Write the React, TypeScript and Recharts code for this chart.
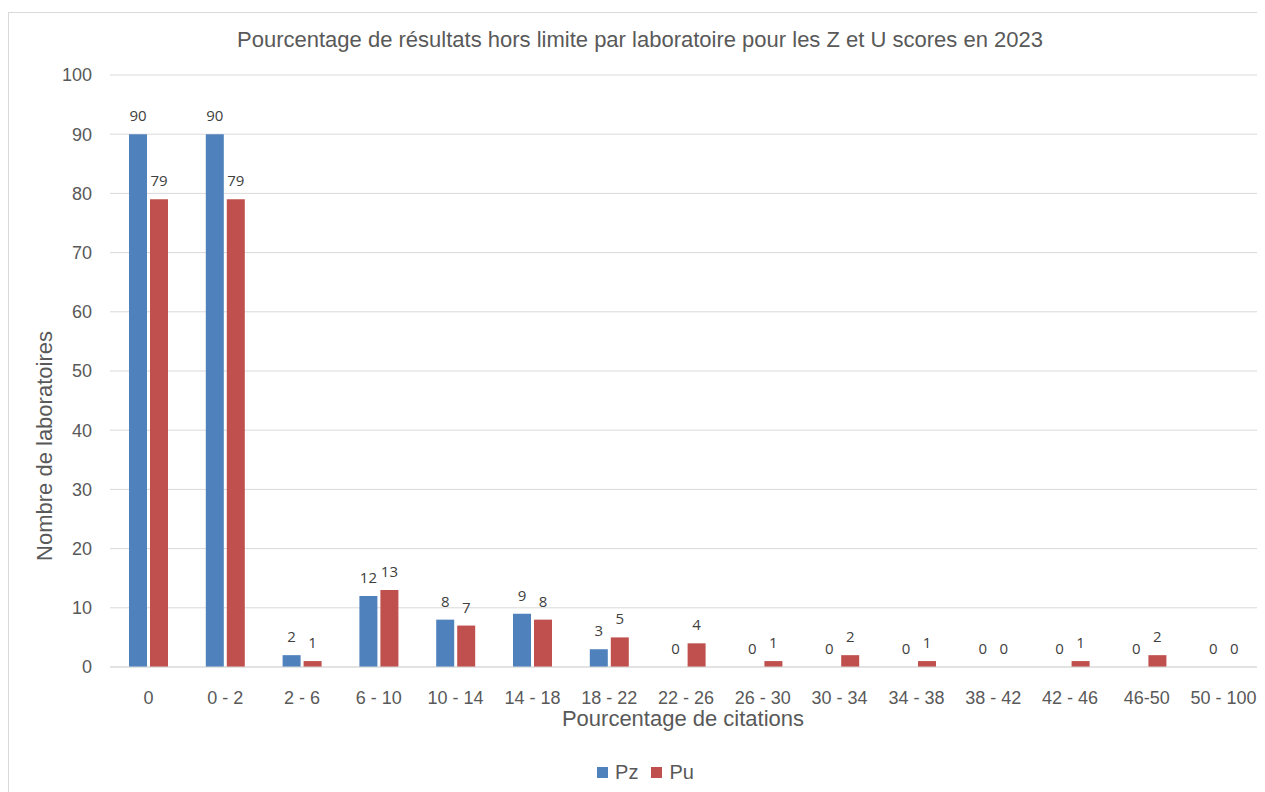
import React from 'react';
import { BarChart, Bar, XAxis, YAxis, CartesianGrid, Legend, LabelList } from 'recharts';

const categories = ['0', '0 - 2', '2 - 6', '6 - 10', '10 - 14', '14 - 18', '18 - 22', '22 - 26', '26 - 30', '30 - 34', '34 - 38', '38 - 42', '42 - 46', '46-50', '50 - 100'];
const pzValues = [90, 90, 2, 12, 8, 9, 3, 0, 0, 0, 0, 0, 0, 0, 0];
const puValues = [79, 79, 1, 13, 7, 8, 5, 4, 1, 2, 1, 0, 1, 2, 0];
const yTicks = [0, 10, 20, 30, 40, 50, 60, 70, 80, 90, 100];

const chartData = categories.map((name, i) => ({ name, Pz: pzValues[i], Pu: puValues[i] }));

const FONT = '"Liberation Sans", Arial, sans-serif';
const LABEL_FONT = '"Open Sans", "Noto Sans", sans-serif';

// zero-height bars still need their "0" label, so draw the text ourselves
const renderValue = (props: any) => {
    const { x, y, width, value } = props;
    return (
        <text x={Number(x) + Number(width) / 2} y={Number(y) - 13} textAnchor="middle" fontSize={15} fill="#404040" fontFamily={LABEL_FONT}>
            {value}
        </text>
    );
};

// a hair-thin bar for zeros so recharts keeps the entry (and its label)
const zeroSize = (value: any) => (Number(value) === 0 ? 0.01 : 0);

const renderLegend = () => (
    <div style={{ height: 48, paddingTop: 6, paddingLeft: 20, boxSizing: 'border-box', display: 'flex', justifyContent: 'center', alignItems: 'center', gap: 13, fontFamily: FONT, fontSize: 20, color: '#595959' }}>
        {[{ n: 'Pz', c: '#4F81BD' }, { n: 'Pu', c: '#C0504D' }].map((it) => (
            <span key={it.n} style={{ display: 'flex', alignItems: 'center', gap: 7 }}>
                <span style={{ width: 11, height: 11, background: it.c, display: 'inline-block' }} />
                {it.n}
            </span>
        ))}
    </div>
);

const App: React.FC = () => {
    return (
        <div style={{ position: 'relative', width: 1257, height: 784, marginTop: 4, border: '1px solid #d9d9d9', boxSizing: 'border-box' }}>
            <div style={{ position: 'absolute', top: 14, left: 0, width: 1262, textAlign: 'center', fontFamily: FONT, fontSize: 22, color: '#595959' }}>
                Pourcentage de résultats hors limite par laboratoire pour les Z et U scores en 2023
            </div>
            <BarChart
                width={1257}
                height={780}
                data={chartData}
                margin={{ top: 62, right: 4, left: 0, bottom: 0 }}
                barSize={18}
                barGap={3}
            >
                <CartesianGrid vertical={false} stroke="#d9d9d9" />
                <XAxis
                    dataKey="name"
                    axisLine={{ stroke: '#d9d9d9' }}
                    tickLine={false}
                    tick={{ fontSize: 18, fill: '#595959', fontFamily: FONT }}
                    tickMargin={18}
                    height={78}
                    label={{ value: 'Pourcentage de citations', position: 'insideBottom', offset: 19, dx: -3, fontSize: 22, fill: '#595959', fontFamily: FONT }}
                />
                <YAxis
                    domain={[0, 100]}
                    ticks={yTicks}
                    axisLine={false}
                    tickLine={false}
                    width={101}
                    tick={{ fontSize: 18, fill: '#595959', fontFamily: FONT }}
                    tickMargin={12}
                    label={{ value: 'Nombre de laboratoires', angle: -90, position: 'insideLeft', offset: 35, dy: 75, fontSize: 22, fill: '#595959', fontFamily: FONT, style: { textAnchor: 'middle' } }}
                />
                <Legend verticalAlign="bottom" height={48} content={renderLegend} />
                <Bar dataKey="Pz" fill="#4F81BD" minPointSize={zeroSize} isAnimationActive={false}>
                    <LabelList dataKey="Pz" content={renderValue} />
                </Bar>
                <Bar dataKey="Pu" fill="#C0504D" minPointSize={zeroSize} isAnimationActive={false}>
                    <LabelList dataKey="Pu" content={renderValue} />
                </Bar>
            </BarChart>
        </div>
    );
};

export default App;
